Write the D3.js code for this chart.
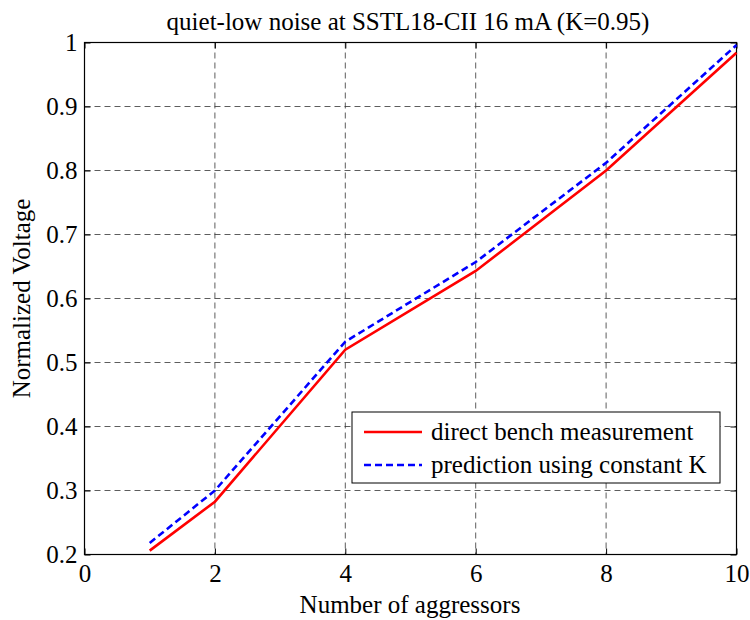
<!DOCTYPE html>
<html>
<head>
<meta charset="utf-8">
<script src="https://cdn.jsdelivr.net/npm/d3@7"></script>
<style>
  body { margin: 0; background: #fff; }
  svg text { font-family: "Liberation Serif", "Times New Roman", serif; fill: #000; }
</style>
</head>
<body>
<svg id="chart" width="750" height="620"></svg>
<script>
const aggressors = [1, 2, 4, 6, 8, 10];
const measured = [0.206, 0.2825, 0.52, 0.643, 0.80, 0.984];
const predicted = [0.218, 0.30, 0.5325, 0.657, 0.812, 0.996];
const xTicks = [0, 2, 4, 6, 8, 10];
const yTicks = [0.2, 0.3, 0.4, 0.5, 0.6, 0.7, 0.8, 0.9, 1];
const seriesNames = ["direct bench measurement", "prediction using constant K"];
const seriesColors = ["#ff0000", "#0000ff"];

const FONT = "Liberation Serif, Times New Roman, serif";
const svg = d3.select("#chart");
const m = { left: 84.5, right: 736.5, top: 42.5, bottom: 554.5 };
const x = d3.scaleLinear().domain([0, 10]).range([m.left, m.right]);
const y = d3.scaleLinear().domain([0.2, 1]).range([m.bottom, m.top]);

svg.append("rect").attr("width", 750).attr("height", 620).attr("fill", "#fff");

// grid
const grid = svg.append("g");
grid.selectAll(".gx").data(xTicks.filter(d => d > 0 && d < 10)).enter().append("line")
  .attr("x1", d => x(d)).attr("x2", d => x(d)).attr("y1", m.top).attr("y2", m.bottom)
  .attr("stroke", "#333").attr("stroke-width", 0.8).attr("stroke-dasharray", "6,4");
grid.selectAll(".gy").data(yTicks.filter(d => d > 0.2 && d < 1)).enter().append("line")
  .attr("x1", m.left).attr("x2", m.right).attr("y1", d => y(d)).attr("y2", d => y(d))
  .attr("stroke", "#333").attr("stroke-width", 0.8).attr("stroke-dasharray", "6,4");

// axes
const fs = "25px";
const xAxis = svg.append("g").attr("transform", `translate(0,${m.bottom})`)
  .call(d3.axisBottom(x).tickValues(xTicks).tickSize(-6).tickPadding(10).tickFormat(d3.format("d")));
const xAxisTop = svg.append("g").attr("transform", `translate(0,${m.top})`)
  .call(d3.axisTop(x).tickValues(xTicks).tickSize(-6).tickFormat(""));
const yAxis = svg.append("g").attr("transform", `translate(${m.left},0)`)
  .call(d3.axisLeft(y).tickValues(yTicks).tickSize(-6).tickPadding(10).tickFormat(d => d === 1 ? "1" : d3.format(".1f")(d)));
const yAxisRight = svg.append("g").attr("transform", `translate(${m.right},0)`)
  .call(d3.axisRight(y).tickValues(yTicks).tickSize(-6).tickFormat(""));
[xAxis, xAxisTop, yAxis, yAxisRight].forEach(a => {
  a.attr("font-family", FONT).attr("font-size", 25);
  a.select(".domain").remove();
  a.selectAll("line").attr("stroke", "#000").attr("stroke-width", 1);
  a.selectAll("text").style("font-size", fs).style("font-family", FONT);
});
xAxis.selectAll("text").attr("y", 9).attr("dy", "0.75em");
yAxis.selectAll("text").attr("dx", "3px");

svg.append("rect").attr("x", m.left).attr("y", m.top)
  .attr("width", m.right - m.left).attr("height", m.bottom - m.top)
  .attr("fill", "none").attr("stroke", "#000").attr("stroke-width", 1.2);

// lines
const line = d3.line().x(d => x(d[0])).y(d => y(d[1]));
svg.append("path").datum(aggressors.map((a, i) => [a, measured[i]]))
  .attr("d", line).attr("fill", "none").attr("stroke", seriesColors[0]).attr("stroke-width", 2.6);
svg.append("path").datum(aggressors.map((a, i) => [a, predicted[i]]))
  .attr("d", line).attr("fill", "none").attr("stroke", seriesColors[1]).attr("stroke-width", 2.6)
  .attr("stroke-dasharray", "7,4");

// title and labels
svg.append("text").attr("x", 408).attr("y", 30).attr("text-anchor", "middle")
  .style("font-size", "25px").style("font-family", FONT).text("quiet-low noise at SSTL18-CII 16 mA (K=0.95)");
svg.append("text").attr("x", 410).attr("y", 613).attr("text-anchor", "middle")
  .style("font-size", "25px").style("font-family", FONT).text("Number of aggressors");
svg.append("text").attr("transform", `translate(30,${(m.top + m.bottom) / 2}) rotate(-90)`)
  .attr("text-anchor", "middle").style("font-size", "25px").style("font-family", FONT).text("Normalized Voltage");

// legend
const lg = svg.append("g");
lg.append("rect").attr("x", 352).attr("y", 412).attr("width", 368).attr("height", 71)
  .attr("fill", "#fff").attr("stroke", "#000").attr("stroke-width", 1);
seriesNames.forEach((name, i) => {
  const yy = 432 + i * 33;
  lg.append("line").attr("x1", 364).attr("x2", 422).attr("y1", yy).attr("y2", yy)
    .attr("stroke", seriesColors[i]).attr("stroke-width", 2.6)
    .attr("stroke-dasharray", i === 1 ? "7,4" : null);
  lg.append("text").attr("x", 431).attr("y", yy).attr("dy", "0.33em")
    .style("font-size", "25px").style("font-family", FONT).text(name);
});
</script>
</body>
</html>
